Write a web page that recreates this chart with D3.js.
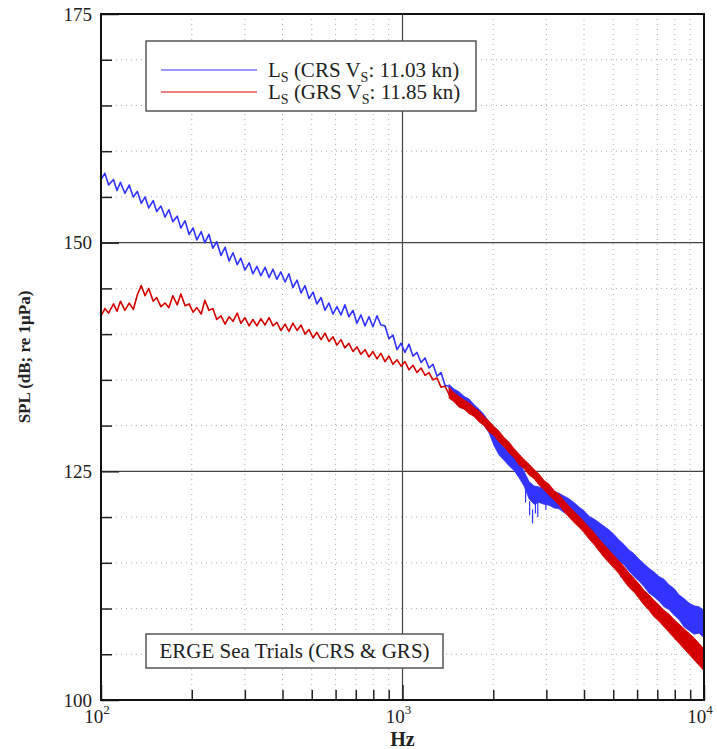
<!DOCTYPE html>
<html>
<head>
<meta charset="utf-8">
<script src="https://cdnjs.cloudflare.com/ajax/libs/d3/7.8.5/d3.min.js"></script>
<style>
body { margin: 0; background: #fff; }
svg text { font-family: "Liberation Serif", "Times New Roman", serif; fill: #222; }
</style>
</head>
<body>
<div id="svg-area"></div>
<script>
// define dimensions of svg container
var svgHeight = 749;
var svgWidth = 717;

// define chart margins
var margin = {
    top: 14,
    right: 13,
    bottom: 49,
    left: 101
};

var chartHeight = svgHeight - margin.top - margin.bottom;
var chartWidth = svgWidth - margin.left - margin.right;

//////// Data ////////
// low frequency part: shared frequencies (Hz), one level per series (dB)
var lowFreq = [100, 103, 106, 110, 113, 116, 120, 124, 128, 132, 136, 140, 144, 149, 153, 158, 163, 168, 173, 179,
    184, 190, 196, 202, 208, 215, 221, 228, 235, 242, 250, 258, 266, 274, 283, 291, 300, 310, 319, 329,
    339, 350, 361, 372, 383, 395, 408, 420, 433, 447, 461, 475, 490, 505, 520, 537, 553, 570, 588, 606,
    625, 644, 664, 685, 706, 728, 751, 774, 798, 823, 848, 875, 902, 930, 959, 989, 1019, 1051, 1083, 1117,
    1152, 1188, 1224, 1262, 1302, 1342, 1384, 1427, 1471];

var crsLow = [156.9, 157.6, 156.3, 156.9, 155.7, 156.6, 155.4, 156.3, 155.0, 155.6, 154.3, 155.0, 153.8, 154.6, 153.4, 154.0, 152.8, 153.6, 152.3, 152.9,
    151.6, 152.4, 150.9, 151.6, 150.3, 151.2, 150.0, 150.9, 149.4, 150.1, 148.6, 149.5, 148.0, 148.9, 147.6, 148.3, 147.0, 147.8, 146.6, 147.4,
    146.4, 147.3, 146.2, 147.1, 146.0, 146.8, 145.7, 146.6, 145.1, 145.9, 144.5, 145.3, 143.9, 144.6, 143.3, 144.0, 142.6, 143.4, 142.2, 143.0,
    142.1, 143.2, 141.9, 142.6, 141.2, 142.1, 140.9, 141.9, 140.8, 142.0, 141.0, 140.9, 139.5, 139.9, 138.3, 139.0, 138.0, 138.9, 137.6, 138.0,
    136.9, 137.4, 136.3, 136.7, 135.4, 135.8, 134.4, 134.3, 133.3];

var grsLow = [142.0, 142.8, 142.3, 143.3, 142.5, 143.6, 142.6, 143.4, 142.7, 144.3, 145.3, 144.2, 145.0, 143.6, 144.0, 143.0, 143.4, 142.9, 144.2, 143.2,
    144.4, 143.1, 143.3, 142.4, 142.9, 142.2, 143.7, 142.6, 142.8, 141.6, 142.0, 141.1, 141.9, 141.4, 142.3, 141.2, 141.8, 140.9, 141.6, 140.9,
    141.7, 141.0, 141.8, 140.9, 141.3, 140.4, 141.1, 140.3, 141.2, 140.4, 141.0, 140.0, 140.5, 139.6, 140.2, 139.4, 140.1, 139.2, 139.7, 138.8,
    139.4, 138.5, 139.0, 138.1, 138.6, 137.8, 138.3, 137.5, 138.1, 137.3, 137.9, 137.0, 137.6, 136.7, 137.2, 136.5, 137.0, 136.1, 136.6, 135.8,
    136.3, 135.5, 135.8, 135.0, 135.2, 134.2, 134.3, 133.4, 133.3];

// high frequency part: noise band, upper and lower edge (dB)
var bandFreq = [1427, 1483, 1540, 1600, 1663, 1727, 1794, 1864, 1937, 2012, 2090, 2172, 2256, 2344, 2435, 2530, 2628, 2731, 2837, 2947,
    3062, 3181, 3305, 3434, 3567, 3706, 3850, 4000, 4156, 4317, 4485, 4660, 4841, 5030, 5225, 5429, 5640, 5859, 6087, 6324,
    6570, 6826, 7091, 7367, 7654, 7952, 8261, 8583, 8917, 9264, 9624, 10000];

var crsBandHi = [134.5, 134.0, 133.7, 133.2, 132.9, 132.3, 131.8, 131.2, 130.4, 129.3, 128.4, 127.6, 127.3, 126.6, 126.1, 125.0, 123.9, 123.4, 123.3, 123.1,
    123.0, 122.8, 122.6, 122.3, 122.0, 121.6, 121.1, 120.7, 120.1, 119.8, 119.4, 119.0, 118.6, 118.1, 117.5, 117.0, 116.4, 116.0, 115.4, 114.9,
    114.4, 114.0, 113.5, 113.2, 112.6, 112.2, 111.5, 111.1, 110.6, 110.3, 110.2, 109.8];
var crsBandLo = [133.3, 133.0, 132.5, 132.2, 131.7, 131.3, 130.7, 130.0, 129.2, 127.8, 126.8, 126.2, 125.6, 125.1, 124.3, 123.4, 122.0, 121.4, 121.6, 121.4,
    121.3, 121.0, 120.9, 120.5, 120.2, 119.8, 119.3, 118.7, 118.3, 117.8, 117.3, 116.8, 116.4, 115.8, 115.2, 114.8, 114.1, 113.5, 113.0, 112.4,
    111.7, 111.3, 110.8, 110.2, 109.9, 109.3, 108.8, 108.0, 107.6, 107.2, 107.3, 106.8];

var grsBandHi = [134.2, 133.6, 133.2, 132.8, 132.5, 132.0, 131.6, 131.0, 130.5, 129.9, 129.4, 128.7, 128.2, 127.5, 126.9, 126.3, 125.8, 125.2, 124.7, 124.0,
    123.6, 122.9, 122.5, 121.8, 121.2, 120.6, 120.1, 119.5, 118.9, 118.3, 117.6, 117.0, 116.4, 115.8, 115.2, 114.6, 113.9, 113.3, 112.7, 112.0,
    111.5, 110.9, 110.4, 109.8, 109.4, 108.8, 108.3, 107.8, 107.3, 106.8, 106.2, 105.6];
var grsBandLo = [133.0, 132.6, 132.0, 131.8, 131.3, 131.0, 130.4, 130.0, 129.3, 128.9, 128.2, 127.7, 127.0, 126.5, 125.7, 125.3, 124.6, 124.2, 123.5, 123.0,
    122.4, 121.9, 121.3, 120.6, 120.0, 119.4, 118.9, 118.3, 117.6, 117.0, 116.3, 115.6, 115.0, 114.4, 113.8, 113.0, 112.3, 111.8, 111.1, 110.4,
    109.8, 109.1, 108.6, 108.0, 107.4, 106.8, 106.2, 105.6, 105.0, 104.4, 103.8, 103.2];

// downward spikes of the CRS band near 2.7 kHz (Hz, dB)
var crsSpikeFreq = [2560, 2640, 2700, 2760, 2810, 2990, 5300];
var crsSpikeLevel = [121.6, 120.2, 119.3, 120.4, 120.0, 120.8, 113.4];

// axes ticks
var yMajorTicks = [100, 125, 150, 175];
var yMinorTicks = [105, 110, 115, 120, 130, 135, 140, 145, 155, 160, 165, 170];
var xMajorTicks = [100, 1000, 10000];
var xMinorTicks = [200, 300, 400, 500, 600, 700, 800, 900, 2000, 3000, 4000, 5000, 6000, 7000, 8000, 9000];
var xTickExp = ["2", "3", "4"];

var seriesNames = ["CRS", "GRS"];
var seriesSpeeds = ["11.03", "11.85"];
var seriesColors = ["#3333ff", "#d40000"];

// create svg container
var svg = d3.select("#svg-area").append("svg")
    .attr("height", svgHeight)
    .attr("width", svgWidth);

var chartGroup = svg.append("g")
    .attr("transform", `translate(${margin.left}, ${margin.top})`);

// scales
var xLogScale = d3.scaleLog()
    .domain([100, 10000])
    .range([0, chartWidth]);

var yLinearScale = d3.scaleLinear()
    .domain([100, 175])
    .range([chartHeight, 0]);

//////// Grid ////////
chartGroup.selectAll(".ygrid-minor")
    .data(yMinorTicks)
    .enter()
    .append("line")
    .attr("x1", 0)
    .attr("x2", chartWidth)
    .attr("y1", d => yLinearScale(d))
    .attr("y2", d => yLinearScale(d))
    .attr("stroke", "#b0b0b0")
    .attr("stroke-dasharray", "1,4");

chartGroup.selectAll(".xgrid-minor")
    .data(xMinorTicks)
    .enter()
    .append("line")
    .attr("x1", d => xLogScale(d))
    .attr("x2", d => xLogScale(d))
    .attr("y1", 0)
    .attr("y2", chartHeight)
    .attr("stroke", "#b0b0b0")
    .attr("stroke-dasharray", "1,4");

chartGroup.selectAll(".ygrid-major")
    .data([125, 150])
    .enter()
    .append("line")
    .attr("x1", 0)
    .attr("x2", chartWidth)
    .attr("y1", d => yLinearScale(d))
    .attr("y2", d => yLinearScale(d))
    .attr("stroke", "#444")
    .attr("stroke-width", 1.2);

chartGroup.append("line")
    .attr("x1", xLogScale(1000))
    .attr("x2", xLogScale(1000))
    .attr("y1", 0)
    .attr("y2", chartHeight)
    .attr("stroke", "#444")
    .attr("stroke-width", 1.2);

//////// Curves ////////
var lowSeries = [crsLow, grsLow];
var bandSeries = [[crsBandHi, crsBandLo], [grsBandHi, grsBandLo]];

var lineGen = d3.line()
    .x(d => xLogScale(d[0]))
    .y(d => yLinearScale(d[1]));

var areaGen = d3.area()
    .x(d => xLogScale(d[0]))
    .y0(d => yLinearScale(d[2]))
    .y1(d => yLinearScale(d[1]));

seriesNames.forEach(function (name, s) {
    var lowData = lowFreq.map((f, i) => [f, lowSeries[s][i]]);
    var bandData = bandFreq.map((f, i) => [f, bandSeries[s][0][i], bandSeries[s][1][i]]);

    chartGroup.append("path")
        .attr("d", lineGen(lowData))
        .attr("fill", "none")
        .attr("stroke", seriesColors[s])
        .attr("stroke-width", 1.6)
        .attr("stroke-linejoin", "round");

    chartGroup.append("path")
        .attr("d", areaGen(bandData))
        .attr("fill", seriesColors[s])
        .attr("stroke", seriesColors[s])
        .attr("stroke-width", 0.8);

    if (s === 0) {
        // thin spikes hanging below the CRS band
        chartGroup.selectAll(".crs-spike")
            .data(crsSpikeFreq.map((f, i) => [f, crsSpikeLevel[i]]))
            .enter()
            .append("line")
            .attr("x1", d => xLogScale(d[0]))
            .attr("x2", d => xLogScale(d[0]))
            .attr("y1", d => yLinearScale(d[1]) - 14)
            .attr("y2", d => yLinearScale(d[1]))
            .attr("stroke", seriesColors[s])
            .attr("stroke-width", 1.2);
    }
});

//////// Legend boxes ////////
var legendGroup = svg.append("g")
    .attr("transform", "translate(146, 41)");

legendGroup.append("rect")
    .attr("width", 330)
    .attr("height", 70)
    .attr("fill", "#fff")
    .attr("stroke", "#555")
    .attr("stroke-width", 1.5);

seriesNames.forEach(function (name, s) {
    var yPos = 29 + s * 22;
    legendGroup.append("line")
        .attr("x1", 15)
        .attr("x2", 111)
        .attr("y1", yPos)
        .attr("y2", yPos)
        .attr("stroke", seriesColors[s])
        .attr("stroke-width", 1.2);

    var label = legendGroup.append("text")
        .attr("x", 122)
        .attr("y", yPos + 7)
        .attr("font-size", "21px");
    label.append("tspan").text("L");
    label.append("tspan").attr("font-size", "14px").attr("dy", 5).text("S");
    label.append("tspan").attr("dy", -5).text(` (${name} V`);
    label.append("tspan").attr("font-size", "14px").attr("dy", 5).text("S");
    label.append("tspan").attr("dy", -5).text(`: ${seriesSpeeds[s]} kn)`);
});

var titleGroup = svg.append("g")
    .attr("transform", "translate(146, 634)");

titleGroup.append("rect")
    .attr("width", 297)
    .attr("height", 34)
    .attr("fill", "#fff")
    .attr("stroke", "#555")
    .attr("stroke-width", 1.5);

titleGroup.append("text")
    .attr("x", 148.5)
    .attr("y", 24)
    .attr("text-anchor", "middle")
    .attr("font-size", "21px")
    .text("ERGE Sea Trials (CRS & GRS)");

//////// Axes ////////
var leftMajor = d3.axisLeft(yLinearScale)
    .tickValues(yMajorTicks)
    .tickSize(-18)
    .tickPadding(9);

var leftMinor = d3.axisLeft(yLinearScale)
    .tickValues(yMinorTicks)
    .tickSize(-11)
    .tickFormat("");

var bottomMajor = d3.axisBottom(xLogScale)
    .tickValues(xMajorTicks)
    .tickSize(-15)
    .tickFormat("");

var bottomMinor = d3.axisBottom(xLogScale)
    .tickValues(xMinorTicks)
    .tickSize(-10)
    .tickFormat("");

var yAxis = chartGroup.append("g").call(leftMajor);
chartGroup.append("g").call(leftMinor);
chartGroup.append("g").attr("transform", `translate(0, ${chartHeight})`).call(bottomMajor);
chartGroup.append("g").attr("transform", `translate(0, ${chartHeight})`).call(bottomMinor);

chartGroup.selectAll(".domain").remove();
chartGroup.selectAll(".tick line").attr("stroke", "#222").attr("stroke-width", 1.5);
yAxis.selectAll("text")
    .attr("font-size", "19px")
    .attr("font-family", "Liberation Serif, serif")
    .attr("fill", "#222");

// frame
chartGroup.append("rect")
    .attr("width", chartWidth)
    .attr("height", chartHeight)
    .attr("fill", "none")
    .attr("stroke", "#111")
    .attr("stroke-width", 2);

// x tick labels 10^n
xMajorTicks.forEach(function (d, i) {
    var t = chartGroup.append("text")
        .attr("x", xLogScale(d) - 4)
        .attr("y", chartHeight + 23)
        .attr("text-anchor", "middle")
        .attr("font-size", "19px");
    t.append("tspan").text("10");
    t.append("tspan").attr("font-size", "13px").attr("dy", -9).text(xTickExp[i]);
});

// axis titles
chartGroup.append("text")
    .attr("x", xLogScale(1000))
    .attr("y", chartHeight + 46)
    .attr("text-anchor", "middle")
    .attr("font-size", "20px")
    .attr("font-weight", "bold")
    .text("Hz");

chartGroup.append("text")
    .attr("transform", "rotate(-90)")
    .attr("x", 0 - (357 - margin.top))
    .attr("y", 0 - margin.left + 30)
    .attr("text-anchor", "middle")
    .attr("font-size", "17px")
    .attr("font-weight", "bold")
    .text("SPL (dB; re 1µPa)");
</script>
</body>
</html>
